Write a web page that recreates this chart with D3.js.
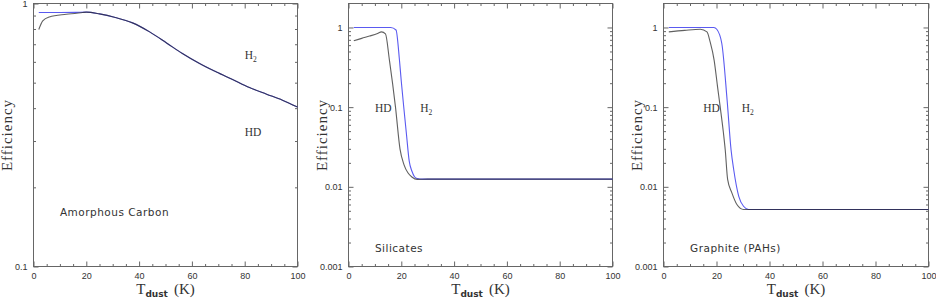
<!DOCTYPE html>
<html>
<head>
<meta charset="utf-8">
<script src="https://cdn.jsdelivr.net/npm/d3@7"></script>
<style>
  body { margin: 0; background: #fff; }
  svg { display: block; }
  .tick text { font-family: "Liberation Sans", sans-serif; font-size: 9px; fill: #333; }
</style>
</head>
<body>
<svg id="chart" width="936" height="300"></svg>
<script>
// Amorphous carbon
const AMC_H2_T = [2, 10, 16, 20, 25, 31, 37.5, 44, 50.4, 56.4, 62.9, 69.3, 75.4, 81.8, 88.3, 94.3, 100]
const AMC_H2 = [0.924, 0.924, 0.925, 0.927, 0.913, 0.885, 0.844, 0.78, 0.708, 0.645, 0.591, 0.549, 0.514, 0.479, 0.452, 0.429, 0.404]
const AMC_HD_T = [2, 3.5, 6, 12.4, 18.6, 20, 25, 31, 37.5, 44, 50.4, 56.4, 62.9, 69.3, 75.4, 81.8, 88.3, 94.3, 100]
const AMC_HD = [0.796, 0.859, 0.889, 0.91, 0.924, 0.927, 0.913, 0.885, 0.844, 0.78, 0.708, 0.645, 0.591, 0.549, 0.514, 0.479, 0.452, 0.429, 0.404]

// Silicates
const SIL_H2_T = [2, 16, 18, 19.3, 20, 21, 22, 23, 24, 25, 26, 28, 100]
const SIL_H2 = [1, 1, 0.93, 0.39, 0.21, 0.095, 0.044, 0.021, 0.0158, 0.0134, 0.0127, 0.0125, 0.0125]
const SIL_HD_T = [2, 5, 8, 11, 12.5, 14, 15.5, 17.8, 19.5, 21, 22.5, 24, 26, 30, 100]
const SIL_HD = [0.68, 0.73, 0.78, 0.84, 0.88, 0.83, 0.39, 0.1, 0.03, 0.019, 0.015, 0.0133, 0.0124, 0.0125, 0.0125]

// Graphite (PAHs)
const GRA_H2_T = [2, 19, 20.1, 22, 24, 25.5, 26.5, 28.4, 30.2, 32.1, 100]
const GRA_H2 = [1, 1, 0.95, 0.63, 0.123, 0.029, 0.0164, 0.0076, 0.0057, 0.0052, 0.0052]
const GRA_HD_T = [2, 8, 13.9, 16.4, 17.6, 19.1, 20.4, 21.4, 22.6, 23.3, 24.2, 25.8, 27.7, 30.2, 100]
const GRA_HD = [0.88, 0.92, 0.95, 0.88, 0.66, 0.39, 0.18, 0.1, 0.048, 0.029, 0.0124, 0.0084, 0.006, 0.0052, 0.0052]

const X_TICKS = [0, 20, 40, 60, 80, 100]
const PANEL_NAMES = ['Amorphous Carbon', 'Silicates', 'Graphite (PAHs)']

const panels = [
    {x: 33.5, w: 264, ydom: [0.1, 1], yticks: [0.1, 1],
     h2: [AMC_H2_T, AMC_H2], hd: [AMC_HD_T, AMC_HD],
     h2Lab: [80, 0.615], hdLab: [80, 0.313], nameLab: [10, 0.156]},
    {x: 348.5, w: 264, ydom: [0.001, 2], yticks: [0.001, 0.01, 0.1, 1],
     h2: [SIL_H2_T, SIL_H2], hd: [SIL_HD_T, SIL_HD],
     h2Lab: [27.2, 0.087], hdLab: [10, 0.087], nameLab: [10, 0.00152]},
    {x: 663.5, w: 265, ydom: [0.001, 2], yticks: [0.001, 0.01, 0.1, 1],
     h2: [GRA_H2_T, GRA_H2], hd: [GRA_HD_T, GRA_HD],
     h2Lab: [29.5, 0.087], hdLab: [15, 0.087], nameLab: [10, 0.00152]},
]

const yTop = 3.5, yBottom = 266.5
const frameColor = '#666'
const svg = d3.select('#chart')

const minorLog = (dom) => {
    const out = []
    for (let e = -4; e <= 1; e++) {
        for (let m = 2; m <= 9; m++) {
            const v = m * Math.pow(10, e)
            if (v > dom[0] * 1.0001 && v < dom[1] * 0.9999) out.push(v)
        }
    }
    return out
}

const styleAxis = (g) => {
    g.select('.domain').remove()
    g.selectAll('.tick line').attr('stroke', frameColor)
}

panels.forEach((p, i) => {
    const x = d3.scaleLinear().domain([0, 100]).range([p.x, p.x + p.w])
    const y = d3.scaleLog().domain(p.ydom).range([yBottom, yTop])
    const g = svg.append('g')

    const xMinor = d3.range(5, 100, 5).filter(v => v % 20 !== 0)
    const yMinor = minorLog(p.ydom)

    // bottom
    g.append('g').attr('transform', `translate(0,${yBottom})`)
        .call(d3.axisBottom(x).tickValues(X_TICKS).tickSizeInner(-5).tickSizeOuter(0).tickPadding(6).tickFormat(d3.format('d')))
        .call(styleAxis)
    g.append('g').attr('transform', `translate(0,${yBottom})`)
        .call(d3.axisBottom(x).tickValues(xMinor).tickSizeInner(-2.5).tickSizeOuter(0).tickFormat(''))
        .call(styleAxis)
    // top
    g.append('g').attr('transform', `translate(0,${yTop})`)
        .call(d3.axisTop(x).tickValues(X_TICKS).tickSizeInner(-5).tickSizeOuter(0).tickFormat(''))
        .call(styleAxis)
    g.append('g').attr('transform', `translate(0,${yTop})`)
        .call(d3.axisTop(x).tickValues(xMinor).tickSizeInner(-2.5).tickSizeOuter(0).tickFormat(''))
        .call(styleAxis)
    // left
    g.append('g').attr('transform', `translate(${p.x},0)`)
        .call(d3.axisLeft(y).tickValues(p.yticks).tickSizeInner(-5).tickSizeOuter(0).tickPadding(6).tickFormat(d => String(d)))
        .call(styleAxis)
    g.append('g').attr('transform', `translate(${p.x},0)`)
        .call(d3.axisLeft(y).tickValues(yMinor).tickSizeInner(-2.5).tickSizeOuter(0).tickFormat(''))
        .call(styleAxis)
    // right
    g.append('g').attr('transform', `translate(${p.x + p.w},0)`)
        .call(d3.axisRight(y).tickValues(p.yticks).tickSizeInner(-5).tickSizeOuter(0).tickFormat(''))
        .call(styleAxis)
    g.append('g').attr('transform', `translate(${p.x + p.w},0)`)
        .call(d3.axisRight(y).tickValues(yMinor).tickSizeInner(-2.5).tickSizeOuter(0).tickFormat(''))
        .call(styleAxis)

    g.append('rect')
        .attr('x', p.x).attr('y', yTop).attr('width', p.w).attr('height', yBottom - yTop)
        .attr('fill', 'none').attr('stroke', frameColor).attr('stroke-width', 1)

    const line = d3.line().x(d => x(d[0])).y(d => y(d[1])).curve(d3.curveMonotoneX)
    const pts = (s) => s[0].map((t, k) => [t, s[1][k]])

    g.append('path').attr('d', line(pts(p.h2)))
        .attr('fill', 'none').attr('stroke', '#5a5af0').attr('stroke-width', 1.1)
    g.append('path').attr('d', line(pts(p.hd)))
        .attr('fill', 'none').attr('stroke', '#222').attr('stroke-opacity', 0.72).attr('stroke-width', 1.1)

    // labels
    const h2 = g.append('text').attr('x', x(p.h2Lab[0])).attr('y', y(p.h2Lab[1]))
        .attr('font-family', 'Liberation Serif, serif').attr('font-size', 11.5).attr('fill', '#333')
    h2.append('tspan').text('H')
    h2.append('tspan').attr('dy', 3).attr('font-size', 7.5).text('2')

    g.append('text').attr('x', x(p.hdLab[0])).attr('y', y(p.hdLab[1]))
        .attr('font-family', 'Liberation Serif, serif').attr('font-size', 11.5).attr('fill', '#333')
        .text('HD')

    g.append('text').attr('x', x(p.nameLab[0])).attr('y', y(p.nameLab[1]))
        .attr('font-family', 'DejaVu Sans, sans-serif').attr('font-size', 10.5)
        .attr('letter-spacing', 0.5).attr('fill', '#333')
        .text(PANEL_NAMES[i])

    // axis titles
    g.append('text')
        .attr('transform', `translate(${p.x - 22},135) rotate(-90)`)
        .attr('text-anchor', 'middle')
        .attr('font-family', 'Liberation Serif, serif').attr('font-size', 15).attr('letter-spacing', 1)
        .attr('fill', '#333')
        .text('Efficiency')

    const xt = g.append('text')
        .attr('x', p.x + p.w / 2).attr('y', 294)
        .attr('text-anchor', 'middle')
        .attr('font-family', 'Liberation Serif, serif').attr('font-size', 15).attr('fill', '#333')
    xt.append('tspan').text('T')
    xt.append('tspan').attr('dy', 3).attr('font-size', 9).attr('font-weight', 'bold')
        .attr('font-family', 'DejaVu Sans, sans-serif').text('dust')
    xt.append('tspan').attr('dy', -3).attr('dx', 6).text('(K)')
})
</script>
</body>
</html>
